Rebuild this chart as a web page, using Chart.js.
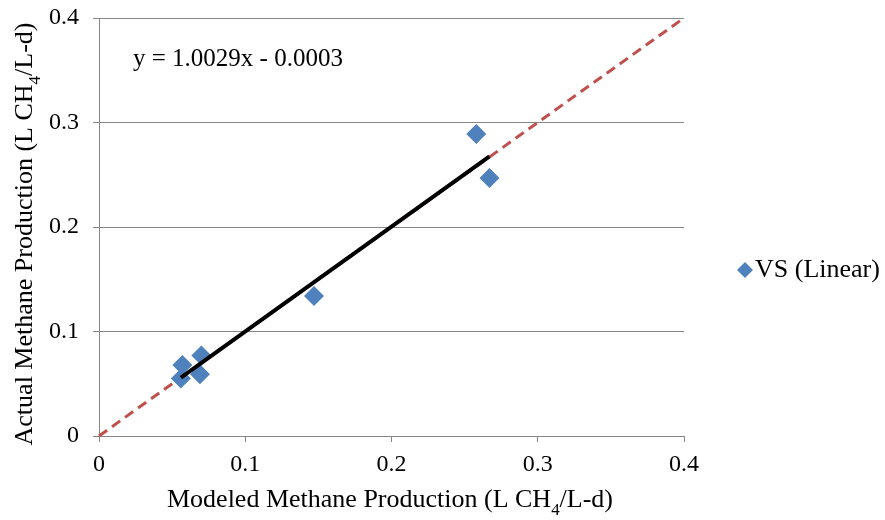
<!DOCTYPE html>
<html>
<head>
<meta charset="utf-8">
<script src="https://cdn.jsdelivr.net/npm/chart.js@4.4.1/dist/chart.umd.min.js"></script>
<style>
  html, body { margin: 0; padding: 0; background: #fff; }
  #wrap { width: 885px; height: 520px; position: relative; }
</style>
</head>
<body>
<div id="wrap"><canvas id="chart"></canvas></div>
<script>
// Modeled vs actual methane production (L CH4/L-d)
const modeled = [0.057, 0.056, 0.070, 0.069, 0.147, 0.258, 0.267];
const actual  = [0.068, 0.055, 0.077, 0.059, 0.134, 0.289, 0.247];
const slope = 1.0029;
const intercept = -0.0003;
const axisTicks = [0, 0.1, 0.2, 0.3, 0.4];
const seriesName = 'VS (Linear)';
const equationText = 'y = 1.0029x - 0.0003';

const FONT = '"Liberation Serif", "Times New Roman", serif';
const GRID = '#868686';
const BLUE = '#4F81BD';

const points = modeled.map((x, i) => ({ x: x, y: actual[i] }));
const xMin = Math.min(...modeled), xMax = Math.max(...modeled);
const trend = [xMin, xMax].map(x => ({ x: x, y: slope * x + intercept }));
const oneToOne = [{ x: axisTicks[0], y: axisTicks[0] }, { x: axisTicks[4], y: axisTicks[4] }];

// текст с нижним индексом (CH4)
function drawParts(ctx, parts, x, y, size) {
  let cx = x;
  parts.forEach(p => {
    ctx.font = (p.sub ? size * 0.65 : size) + 'px ' + FONT;
    ctx.fillText(p.t, cx, p.sub ? y + size * 0.3 : y);
    cx += ctx.measureText(p.t).width;
  });
}
function partsWidth(ctx, parts, size) {
  return parts.reduce((w, p) => {
    ctx.font = (p.sub ? size * 0.65 : size) + 'px ' + FONT;
    return w + ctx.measureText(p.t).width;
  }, 0);
}

const textPlugin = {
  id: 'texts',
  afterDraw(chart) {
    const ctx = chart.ctx;
    const size = 26;
    ctx.save();
    ctx.fillStyle = '#000';
    ctx.textBaseline = 'alphabetic';
    ctx.textAlign = 'left';

    const xParts = [{ t: 'Modeled Methane Production (L CH' }, { t: '4', sub: true }, { t: '/L-d)' }];
    const yParts = [{ t: 'Actual Methane Production (L CH' }, { t: '4', sub: true }, { t: '/L-d)' }];

    const xw = partsWidth(ctx, xParts, size);
    drawParts(ctx, xParts, 390 - xw / 2, 507, size);

    ctx.save();
    ctx.translate(32, 234);
    ctx.rotate(-Math.PI / 2);
    const yw = partsWidth(ctx, yParts, size);
    drawParts(ctx, yParts, -yw / 2, 0, size);
    ctx.restore();

    // уравнение тренда
    ctx.font = '25px ' + FONT;
    ctx.textBaseline = 'middle';
    ctx.fillText(equationText, 133, 59);

    // легенда
    ctx.fillStyle = BLUE;
    ctx.beginPath();
    ctx.moveTo(745, 262); ctx.lineTo(753, 270); ctx.lineTo(745, 278); ctx.lineTo(737, 270);
    ctx.closePath();
    ctx.fill();
    ctx.fillStyle = '#000';
    ctx.font = size + 'px ' + FONT;
    ctx.fillText(seriesName, 755, 270);
    ctx.restore();
  }
};

new Chart(document.getElementById('chart'), {
  type: 'scatter',
  data: {
    datasets: [
      {
        label: 'trend',
        data: trend,
        showLine: true,
        borderColor: '#000',
        borderWidth: 4,
        pointRadius: 0,
        order: 0
      },
      {
        label: seriesName,
        data: points,
        pointStyle: 'rectRot',
        pointRadius: 10,
        pointHoverRadius: 10,
        backgroundColor: BLUE,
        borderColor: BLUE,
        borderWidth: 0,
        order: 1
      },
      {
        label: '1:1',
        data: oneToOne,
        showLine: true,
        borderColor: '#C0504D',
        borderWidth: 3,
        borderDash: [10, 6],
        pointRadius: 0,
        clip: false,
        order: 2
      }
    ]
  },
  options: {
    responsive: true,
    maintainAspectRatio: false,
    animation: false,
    layout: { padding: { top: 18, right: 201, left: 0, bottom: 0 } },
    plugins: {
      legend: { display: false },
      tooltip: { enabled: false }
    },
    scales: {
      x: {
        type: 'linear',
        min: 0, max: 0.4,
        afterBuildTicks: s => { s.ticks = axisTicks.map(v => ({ value: v })); },
        afterFit: s => { s.height = 84; s.paddingLeft = 0; s.paddingRight = 0; },
        grid: { drawOnChartArea: false, drawTicks: true, tickLength: 6, color: GRID },
        border: { color: GRID, width: 1 },
        ticks: { color: '#000', padding: 8, maxRotation: 0, font: { family: FONT, size: 24 } }
      },
      y: {
        type: 'linear',
        min: 0, max: 0.4,
        afterBuildTicks: s => { s.ticks = axisTicks.map(v => ({ value: v })); },
        afterFit: s => { s.width = 99; s.paddingTop = 0; s.paddingBottom = 0; },
        grid: { drawTicks: true, tickLength: 6, color: GRID },
        border: { color: GRID, width: 1 },
        ticks: { color: '#000', padding: 14, font: { family: FONT, size: 24 } }
      }
    }
  },
  plugins: [textPlugin]
});
</script>
</body>
</html>
